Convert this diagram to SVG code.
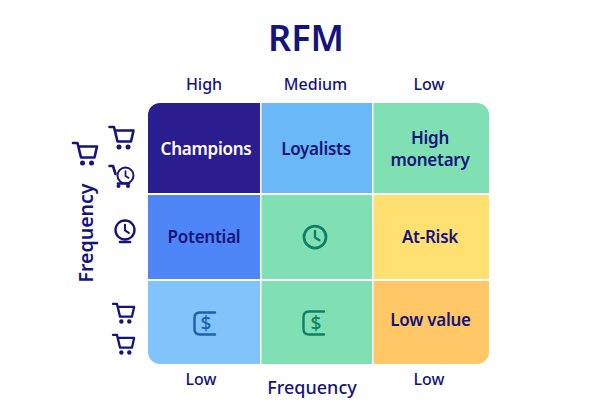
<svg xmlns="http://www.w3.org/2000/svg" width="612" height="408" viewBox="0 0 612 408">
<style>
text{font-family:"Noto Sans","Open Sans","Liberation Sans",sans-serif;font-weight:500;fill:#14147a;text-anchor:middle}
.t{font-size:16px}
.c{font-size:17px;font-weight:600;letter-spacing:-.25px}
.i{fill:none;stroke-linecap:round;stroke-linejoin:round}
.cart{fill:none;stroke:#14147a;stroke-width:2.600;stroke-linecap:round;stroke-linejoin:round}
</style>
<defs>
<g id="cart"><path class="cart" d="M0 1H4.500L8 15.500H21.500L24 4.500H5.200"/><circle cx="9.500" cy="21" r="2.500" fill="#14147a"/><circle cx="18.500" cy="21" r="2.500" fill="#14147a"/></g>
<g id="clock"><circle r="1" fill="none" stroke-width="0.25"/><path d="M0 -.55V.05L.4 .3" fill="none" stroke-width="0.22" stroke-linecap="round" stroke-linejoin="round"/></g>
</defs>
<text id="title" x="306" y="51" style="font-size:36px;font-weight:600">RFM</text>
<g id="cell-champions"><path d="M160 103H260V193H148V115A12 12 0 0 1 160 103Z" fill="#2a1d8f"/><text class="c" x="206" y="155" style="fill:#fff">Champions</text></g>
<g id="cell-loyalists"><rect x="261.500" y="103" width="110.500" height="90" fill="#6ab8f7"/><text class="c" x="316" y="155">Loyalists</text></g>
<g id="cell-high-monetary"><path d="M373.500 103H477A12 12 0 0 1 489 115V193H373.500Z" fill="#80e0b4"/><text class="c" x="430" y="144">High</text><text class="c" x="430" y="166">monetary</text></g>
<g id="cell-potential"><rect x="148" y="195" width="112" height="84" fill="#4f86f7"/><text class="c" x="204" y="243">Potential</text></g>
<g id="cell-clock"><rect x="261.500" y="195" width="110.500" height="84" fill="#80e0b4"/><g transform="translate(315 237) scale(11)" stroke="#0f8068"><use href="#clock"/></g></g>
<g id="cell-at-risk"><rect x="373.500" y="195" width="115.500" height="84" fill="#ffe070"/><text class="c" x="430" y="243">At-Risk</text></g>
<g id="cell-monetary-low"><path d="M148 281H260V364H160A12 12 0 0 1 148 352Z" fill="#80c4fb"/><path class="i" stroke="#1f5fae" stroke-width="2.400" d="M215 312.500H200Q194.500 312.500 194.500 318V329Q194.500 334.500 200 334.500H215"/><text x="206" y="330" style="font-size:19px;fill:#1f5fae">$</text></g>
<g id="cell-monetary-mid"><rect x="261.500" y="281" width="110.500" height="83" fill="#80e0b4"/><path class="i" stroke="#0f8068" stroke-width="2.400" d="M324 311.500H309Q303.500 311.500 303.500 317V329Q303.500 334.500 309 334.500H324"/><text x="316" y="330" style="font-size:19px;fill:#0f8068">$</text></g>
<g id="cell-low-value"><path d="M373.500 281H489V352A12 12 0 0 1 477 364H373.500Z" fill="#ffc766"/><text class="c" x="430.500" y="326">Low value</text></g>
<g id="col-labels"><text class="t" x="204" y="90">High</text><text class="t" x="315.500" y="90">Medium</text><text class="t" x="429" y="90">Low</text><text class="t" x="201" y="385">Low</text><text class="t" x="429" y="385">Low</text><text x="312" y="394" style="font-size:18px">Frequency</text></g>
<text id="axis-y" transform="translate(93 233) rotate(-90)" style="font-size:19.500px;font-weight:600">Frequency</text>
<g id="row-icons">
<use href="#cart" x="73" y="142"/>
<use href="#cart" x="109.500" y="126"/>
<g id="cart-clock"><path class="cart" d="M109.500 166H113L115.500 174"/><circle cx="118.500" cy="186" r="2" fill="#14147a"/><circle cx="128" cy="186" r="2" fill="#14147a"/><path class="cart" d="M118 183.500H129"/><g transform="translate(125.500 175.500) scale(8)" stroke="#14147a"><use href="#clock"/></g></g>
<g id="clock-row"><g transform="translate(125 230) scale(9.500)" stroke="#14147a"><use href="#clock"/></g><path class="cart" d="M120 242H130"/></g>
<use href="#cart" transform="translate(113 303) scale(.88)"/>
<use href="#cart" transform="translate(113 334) scale(.88)"/>
</g>
</svg>
